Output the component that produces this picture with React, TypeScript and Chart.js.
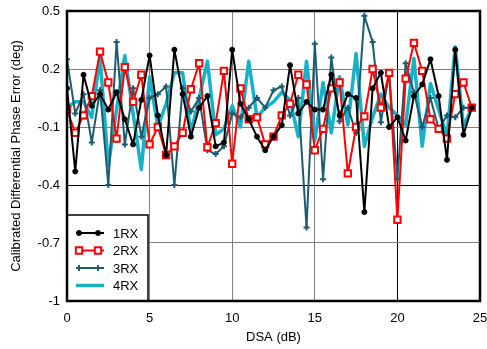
import React, { useEffect, useRef } from "react";
import { Chart, registerables } from "chart.js";
import { drawPoint } from "chart.js/helpers";

Chart.register(...registerables);

const dsa = [
  0, 0.5, 1, 1.5, 2, 2.5, 3, 3.5, 4, 4.5,
  5, 5.5, 6, 6.5, 7, 7.5, 8, 8.5, 9, 9.5,
  10, 10.5, 11, 11.5, 12, 12.5, 13, 13.5, 14, 14.5,
  15, 15.5, 16, 16.5, 17, 17.5, 18, 18.5, 19, 19.5,
  20, 20.5, 21, 21.5, 22, 22.5, 23, 23.5, 24, 24.5,
];

const rx1 = [
  0.10, -0.33, 0.17, 0.01, 0.07, -0.01, 0.08, -0.06, -0.19, 0.04,
  0.27, -0.04, -0.245, 0.30, 0.07, -0.15, 0.0, 0.06, -0.20, -0.18,
  0.30, 0.02, -0.06, -0.15, -0.22, -0.15, -0.09, 0.22, -0.03, 0.03,
  -0.01, -0.01, 0.17, -0.04, 0.07, 0.05, -0.54, 0.10, 0.18, -0.10,
  -0.05, -0.17, 0.06, 0.12, 0.25, 0.06, -0.27, 0.30, -0.14, 0.0,
];

const rx2 = [
  -0.01, -0.13, -0.04, 0.06, 0.29, 0.13, -0.16, 0.21, 0.03, 0.17,
  -0.19, -0.10, -0.245, -0.20, -0.13, 0.095, 0.23, -0.205, -0.08, 0.19,
  -0.29, 0.10, -0.06, -0.05, -0.19, -0.15, -0.04, 0.02, 0.17, 0.12,
  -0.22, -0.11, 0.10, 0.13, -0.34, -0.10, -0.045, 0.20, 0.0, 0.18,
  -0.58, 0.15, 0.335, 0.19, -0.06, -0.11, -0.16, 0.07, 0.13, 0.0,
];

const rx3 = [
  0.25, -0.03, 0.07, -0.18, 0.09, -0.40, 0.34, -0.19, 0.10, -0.15,
  0.05, 0.07, 0.11, -0.40, 0.10, -0.02, 0.05, -0.22, -0.24, -0.20,
  -0.03, -0.05, 0.0, 0.05, 0.0, 0.09, 0.11, -0.04, 0.05, -0.62,
  0.33, -0.37, 0.26, -0.07, 0.0, -0.13, 0.475, 0.34, -0.075, 0.18,
  -0.37, 0.23, 0.08, -0.10, 0.05, -0.11, -0.04, -0.05, 0.0, 0.0,
];

const rx4 = [
  0.0, 0.03, 0.03, -0.05, 0.26, -0.30, -0.01, 0.27, -0.03, -0.32,
  0.16, -0.10, 0.02, 0.18, 0.18, -0.13, 0.05, 0.24, -0.14, -0.11,
  0.01, -0.10, 0.24, -0.05, 0.0, 0.03, 0.08, 0.04, -0.15, 0.24,
  -0.17, 0.13, -0.13, 0.16, -0.09, 0.28, -0.20, -0.05, 0.07, 0.0,
  -0.04, -0.09, 0.255, -0.20, 0.125, -0.01, -0.15, 0.315, -0.10, 0.0,
];

const seriesNames = ["1RX", "2RX", "3RX", "4RX"];
const xTicks = [0, 5, 10, 15, 20, 25];
const yTicks = [-1, -0.7, -0.4, -0.1, 0.2, 0.5];

const FONT = "'Liberation Sans', Arial, Helvetica, sans-serif";

export default function App() {
  const ref = useRef<HTMLCanvasElement>(null);

  useEffect(() => {
    document.body.style.margin = "0";
    const canvas = ref.current;
    if (!canvas) return;

    const toPts = (arr: number[]) => arr.map((y, i) => ({ x: dsa[i], y }));

    const legendPlugin = {
      id: "boxLegend",
      afterDatasetsDraw(chart: any) {
        const ctx = chart.ctx;
        const a = chart.chartArea;
        const bx = a.left;
        const by = a.bottom - 86;
        const bw = 81;
        const bh = 86;
        ctx.save();
        ctx.fillStyle = "#ffffff";
        ctx.fillRect(bx, by, bw, bh);
        ctx.strokeStyle = "#000";
        ctx.lineWidth = 1.5;
        ctx.strokeRect(bx, by, bw, bh);
        chart.data.datasets.forEach((ds: any, i: number) => {
          const y = by + 18 + i * 17.5;
          ctx.strokeStyle = ds.borderColor;
          ctx.lineWidth = ds.borderWidth;
          ctx.beginPath();
          ctx.moveTo(bx + 9, y);
          ctx.lineTo(bx + 37, y);
          ctx.stroke();
          if (ds.pointRadius > 0) {
            ctx.fillStyle = ds.pointBackgroundColor;
            ctx.strokeStyle = ds.pointBorderColor;
            ctx.lineWidth = ds.pointBorderWidth;
            const opts = {
              pointStyle: ds.pointStyle,
              radius: ds.pointRadius,
              rotation: 0,
              borderWidth: ds.pointBorderWidth,
            };
            drawPoint(ctx, opts, bx + 12, y);
            drawPoint(ctx, opts, bx + 31, y);
          }
          ctx.fillStyle = "#000";
          ctx.font = `13px ${FONT}`;
          ctx.textBaseline = "middle";
          ctx.textAlign = "left";
          ctx.fillText(seriesNames[i], bx + 46, y + 1);
        });
        ctx.restore();
      },
      afterDraw(chart: any) {
        const ctx = chart.ctx;
        const a = chart.chartArea;
        ctx.save();
        ctx.strokeStyle = "#000";
        ctx.lineWidth = 2.5;
        ctx.strokeRect(a.left, a.top, a.right - a.left, a.bottom - a.top);
        ctx.restore();
      },
    };

    const chart = new Chart(canvas, {
      type: "line",
      data: {
        datasets: [
          {
            label: seriesNames[0],
            data: toPts(rx1),
            borderColor: "#000000",
            borderWidth: 2,
            borderJoinStyle: "round",
            pointStyle: "circle",
            pointRadius: 2.5,
            pointBackgroundColor: "#000000",
            pointBorderColor: "#000000",
            pointBorderWidth: 1,
            tension: 0,
          },
          {
            label: seriesNames[1],
            data: toPts(rx2),
            borderColor: "#ff0000",
            borderWidth: 2,
            borderJoinStyle: "round",
            pointStyle: "rect",
            pointRadius: 4.5,
            pointBackgroundColor: "#ffffff",
            pointBorderColor: "#ff0000",
            pointBorderWidth: 2,
            tension: 0,
          },
          {
            label: seriesNames[2],
            data: toPts(rx3),
            borderColor: "#1d5c70",
            borderWidth: 2,
            borderJoinStyle: "round",
            pointStyle: "cross",
            pointRadius: 3,
            pointBackgroundColor: "#1d5c70",
            pointBorderColor: "#1d5c70",
            pointBorderWidth: 2,
            tension: 0,
          },
          {
            label: seriesNames[3],
            data: toPts(rx4),
            borderColor: "#17b2c7",
            borderWidth: 3.5,
            borderJoinStyle: "round",
            pointRadius: 0,
            pointBackgroundColor: "#17b2c7",
            pointBorderColor: "#17b2c7",
            pointBorderWidth: 0,
            tension: 0,
          },
        ],
      },
      options: {
        responsive: false,
        animation: false,
        layout: { padding: { left: 0, top: 11, right: 7, bottom: 0 } },
        plugins: { legend: { display: false }, tooltip: { enabled: false } },
        scales: {
          x: {
            type: "linear",
            min: 0,
            max: 25,
            afterBuildTicks: (s: any) => {
              s.ticks = xTicks.map((v) => ({ value: v }));
            },
            afterFit: (s: any) => {
              s.height = 48;
              s.paddingLeft = 0;
              s.paddingRight = 0;
            },
            grid: {
              drawTicks: false,
              tickLength: 0,
              lineWidth: 1,
              color: (c: any) => (c.tick && c.tick.value === 20 ? "#000" : "#808080"),
            },
            border: { display: false },
            ticks: {
              padding: 10,
              color: "#000",
              font: { family: FONT, size: 13 },
              maxRotation: 0,
              autoSkip: false,
              callback: (v: any) => String(v),
            },
            title: {
              display: true,
              text: "DSA (dB)",
              color: "#000",
              font: { family: FONT, size: 13 },
              padding: { top: 0, bottom: 4 },
            },
          },
          y: {
            type: "linear",
            min: -1,
            max: 0.5,
            afterBuildTicks: (s: any) => {
              s.ticks = yTicks.map((v) => ({ value: v }));
            },
            afterFit: (s: any) => {
              s.width = 67;
              s.paddingTop = 0;
              s.paddingBottom = 0;
            },
            grid: {
              drawTicks: false,
              tickLength: 0,
              lineWidth: 1,
              color: (c: any) => (c.tick && c.tick.value === -0.4 ? "#000" : "#808080"),
            },
            border: { display: false },
            ticks: {
              padding: 7,
              color: "#000",
              font: { family: FONT, size: 13 },
              autoSkip: false,
              callback: (v: any) => String(v),
            },
            title: {
              display: true,
              text: "Calibrated Differential Phase Error (deg)",
              color: "#000",
              font: { family: FONT, size: 13 },
              padding: { top: 9, bottom: 0 },
            },
          },
        },
      },
      plugins: [legendPlugin],
    });

    return () => chart.destroy();
  }, []);

  return (
    <div style={{ width: 487, height: 349 }}>
      <canvas ref={ref} width={487} height={349} style={{ display: "block", width: 487, height: 349 }} />
    </div>
  );
}
